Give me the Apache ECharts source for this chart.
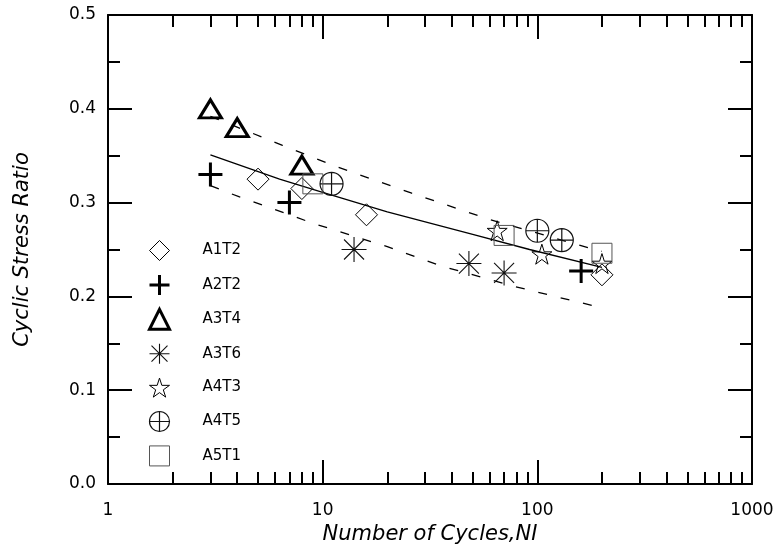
<!DOCTYPE html>
<html>
<head>
<meta charset="utf-8">
<script src="https://cdn.jsdelivr.net/npm/echarts@6/dist/echarts.min.js"></script>
<style>
  html, body { margin: 0; padding: 0; background: #fff; }
  #main { width: 778px; height: 552px; }
</style>
</head>
<body>
<div id="main"></div>
<script>
// series names (legend order)
var names = ['A1T2', 'A2T2', 'A3T4', 'A3T6', 'A4T3', 'A4T5', 'A5T1'];

// [number of cycles, cyclic stress ratio]
var a1t2 = [[5, 0.325], [8, 0.315], [16, 0.287], [200, 0.223]];
var a2t2 = [[3, 0.33], [7, 0.30], [160, 0.227]];
var a3t4 = [[3, 0.40], [4, 0.38], [8, 0.34]];
var a3t6 = [[14, 0.25], [48, 0.235], [70, 0.225]];
var a4t3 = [[65, 0.27], [105, 0.245], [200, 0.235]];
var a4t5 = [[11, 0.32], [100, 0.27], [130, 0.26]];
var a5t1 = [[9, 0.32], [70, 0.265], [200, 0.246]];

// fitted line and bounds
var fitLine = [[3, 0.351], [6.3, 0.325], [10, 0.311], [20, 0.29], [50, 0.266], [92, 0.25], [200, 0.231]];
var upperLine = [[3, 0.392], [6.5, 0.361], [11.4, 0.339], [26, 0.31], [58, 0.283], [172, 0.252], [200, 0.248]];
var lowerLine = [[3, 0.318], [4.1, 0.306], [5.3, 0.297], [9, 0.278], [20, 0.253], [35, 0.233], [77, 0.211], [190, 0.189]];

// ticks
var xMajor = [1, 10, 100, 1000];
var xMinor = [2, 3, 4, 5, 6, 7, 8, 9, 20, 30, 40, 50, 60, 70, 80, 90, 200, 300, 400, 500, 600, 700, 800, 900];

var FONT = 'DejaVu Sans';

var myChart = echarts.init(document.getElementById('main'));

var marks = {
    A1T2: { data: a1t2, symbol: 'diamond', size: 22, color: '#000', width: 1 },
    A2T2: { data: a2t2, symbol: 'path://M0,10L20,10M10,0L10,20', size: 24, color: '#000', width: 3 },
    A3T4: { data: a3t4, symbol: 'triangle', size: [22, 18], color: '#000', width: 3 },
    A3T6: { data: a3t6, symbol: 'path://M0,10L20,10M10,0L10,20M2,2L18,18M18,2L2,18', size: 25, color: '#111', width: 1.1 },
    A4T3: { data: a4t3, symbol: 'path://M50,0L61.2,34.5L97.6,34.5L68.2,55.9L79.4,90.5L50,69.1L20.6,90.5L31.8,55.9L2.4,34.5L38.8,34.5Z', size: 20, color: '#000', width: 1 },
    A4T5: { data: a4t5, symbol: 'path://M0,10A10,10,0,1,1,20,10A10,10,0,1,1,0,10ZM10,0L10,20M0,10L20,10', size: 23, color: '#111', width: 1.2 },
    A5T1: { data: a5t1, symbol: 'rect', size: 20, color: '#555', width: 1 }
};

function lineSeries(data, dashed) {
    return {
        type: 'line',
        data: data,
        showSymbol: false,
        symbol: 'none',
        silent: true,
        z: 1,
        lineStyle: { color: '#000', width: 1.3, type: dashed ? [9, 14] : 'solid' }
    };
}

var series = [lineSeries(fitLine, false), lineSeries(upperLine, true), lineSeries(lowerLine, true)];
var legendData = [];
names.forEach(function(n) {
    var m = marks[n];
    series.push({
        name: n,
        type: 'scatter',
        data: m.data,
        symbol: m.symbol,
        symbolSize: m.size,
        z: 3,
        itemStyle: { color: 'none', borderColor: m.color, borderWidth: m.width, opacity: 1 },
        emphasis: { disabled: true }
    });
    legendData.push({
        name: n,
        itemStyle: { color: 'none', borderColor: m.color, borderWidth: m.width }
    });
});

function tickAxis(pos, values, len, showLine) {
    return {
        type: 'log',
        logBase: 10,
        position: pos,
        min: 1,
        max: 1000,
        axisLine: { show: showLine, lineStyle: { color: '#000', width: 2 } },
        axisTick: { show: true, inside: true, length: len, customValues: values, lineStyle: { color: '#000', width: 2 } },
        axisLabel: { show: false },
        splitLine: { show: false }
    };
}

var option = {
    animation: false,
    backgroundColor: '#fff',
    grid: { left: 108, right: 26, top: 15, bottom: 68, containLabel: false },
    legend: {
        orient: 'vertical',
        left: 142,
        top: 233,
        itemWidth: 20,
        itemHeight: 20,
        itemGap: 9.4,
        selectedMode: false,
        data: legendData,
        textStyle: {
            fontFamily: FONT,
            fontSize: 15,
            lineHeight: 20,
            color: '#000',
            padding: [0, 0, 0, 28]
        }
    },
    xAxis: [
        {
            type: 'log',
            logBase: 10,
            position: 'bottom',
            min: 1,
            max: 1000,
            name: 'Number of Cycles,NI',
            nameLocation: 'middle',
            nameGap: 35,
            nameTextStyle: { fontFamily: FONT, fontSize: 21, fontStyle: 'italic', color: '#000' },
            axisLine: { show: true, lineStyle: { color: '#000', width: 2 } },
            axisTick: { show: true, inside: true, length: 24, customValues: xMajor, lineStyle: { color: '#000', width: 2 } },
            axisLabel: {
                show: true,
                customValues: xMajor,
                margin: 18,
                fontFamily: FONT,
                fontSize: 17,
                color: '#000',
                formatter: function(v) { return String(Math.round(v)); }
            },
            splitLine: { show: false }
        },
        tickAxis('bottom', xMinor, 12, false),
        tickAxis('top', xMajor, 24, true),
        tickAxis('top', xMinor, 12, false)
    ],
    yAxis: [
        {
            type: 'value',
            position: 'left',
            min: 0,
            max: 0.5,
            interval: 0.1,
            name: 'Cyclic Stress Ratio',
            nameLocation: 'middle',
            nameGap: 75,
            nameTextStyle: { fontFamily: FONT, fontSize: 21, fontStyle: 'italic', color: '#000' },
            axisLine: { show: true, lineStyle: { color: '#000', width: 2 } },
            axisTick: { show: true, inside: true, length: 24, lineStyle: { color: '#000', width: 2 } },
            minorTick: { show: true, splitNumber: 2, length: 12, lineStyle: { color: '#000', width: 2 } },
            axisLabel: {
                margin: 12,
                fontFamily: FONT,
                fontSize: 17,
                color: '#000',
                formatter: function(v) { return v.toFixed(1); }
            },
            splitLine: { show: false }
        },
        {
            type: 'value',
            position: 'right',
            min: 0,
            max: 0.5,
            interval: 0.1,
            axisLine: { show: true, lineStyle: { color: '#000', width: 2 } },
            axisTick: { show: true, inside: true, length: 24, lineStyle: { color: '#000', width: 2 } },
            minorTick: { show: true, splitNumber: 2, length: 12, lineStyle: { color: '#000', width: 2 } },
            axisLabel: { show: false },
            splitLine: { show: false }
        }
    ],
    series: series
};

myChart.setOption(option);
</script>
</body>
</html>
